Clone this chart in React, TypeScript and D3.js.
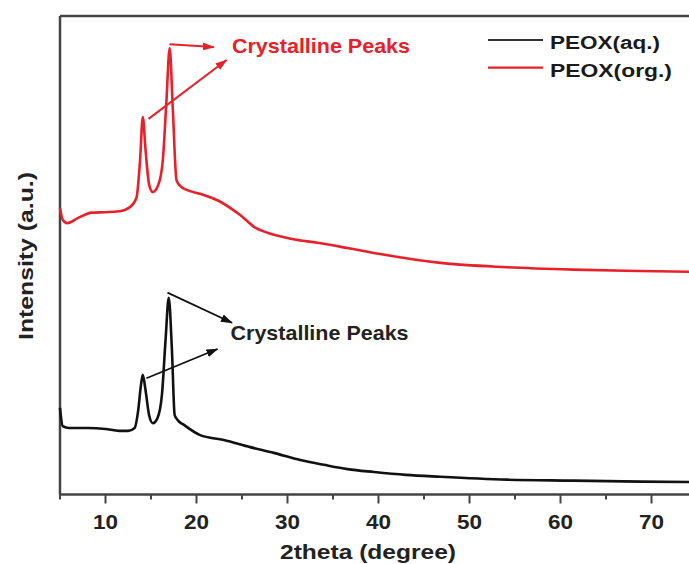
import React from "react";
import * as d3 from "d3";

// 2theta positions (degree) and intensities (a.u.)
const aqTheta = [5, 5.3, 6, 8, 10, 11.5, 12.5, 13.2, 13.6, 13.9, 14.1, 14.4, 14.8, 15.2, 15.7, 16.2, 16.6, 16.95, 17.3, 17.6, 18.0, 18.5, 20.4, 23, 25.9, 28.5, 31.4, 34, 36.6, 39.5, 43, 46.8, 54.1, 61.4, 68.8, 75.5];
const aqIntensity = [18.1, 14.3, 13.9, 13.9, 13.7, 13.3, 13.3, 13.9, 17.7, 22.9, 25.0, 21.8, 16.5, 14.9, 15.9, 20.8, 32.3, 41.1, 30.2, 16.6, 15.4, 14.7, 12.4, 11.4, 9.9, 8.7, 7.2, 6.2, 5.3, 4.7, 4.1, 3.7, 3.1, 2.9, 2.7, 2.6];

const orgTheta = [5, 5.3, 5.8, 7, 8.5, 10, 11.5, 12.7, 13.4, 13.8, 14.1, 14.4, 14.8, 15.2, 15.8, 16.3, 16.7, 17.05, 17.4, 17.8, 18.2, 19, 20.5, 22.3, 24.8, 26.5, 27.8, 30.5, 33.3, 36.6, 40, 46.8, 54.1, 61.4, 68.8, 75.5];
const orgIntensity = [59.9, 57.4, 56.7, 57.8, 58.9, 59.0, 59.2, 60.1, 62.0, 69.9, 78.9, 72.0, 64.7, 63.2, 64.7, 69.9, 82.4, 93.3, 80.4, 65.7, 64.5, 63.6, 62.8, 61.5, 58.4, 55.7, 54.7, 53.4, 52.6, 51.5, 50.3, 48.4, 47.5, 47.0, 46.7, 46.5];

const majorTicks = [10, 20, 30, 40, 50, 60, 70];
const minorTicks = [5, 15, 25, 35, 45, 55, 65, 75];

const seriesNames = ["PEOX(aq.)", "PEOX(org.)"];
const peakLabel = "Crystalline Peaks";

// annotation arrows in data units: [x1, y1, x2, y2]
const orgArrows = [
  [17.03, 94.1, 21.9, 93.5],
  [14.73, 78.5, 23.3, 90.8],
];
const aqArrows = [
  [16.81, 42.2, 23.9, 35.9],
  [14.5, 24.3, 22.3, 30.4],
];
const orgLabelAt = [23.9, 92.3];
const aqLabelAt = [23.74, 32.3];

const RED = "#e8202a";
const BLACK = "#111";
const AXIS = "#444";
const FONT = "'Liberation Sans', Arial, sans-serif";

export default function App() {
  const width = 689;
  const height = 564;
  const left = 60;
  const bottom = 494.5;
  const top = 16;

  const x = d3.scaleLinear().domain([5, 75.5]).range([left, left + 70.5 * 9.1]);
  const y = d3.scaleLinear().domain([0, 100]).range([bottom, bottom - 478.5]);

  const line = d3
    .line<[number, number]>()
    .x((d) => x(d[0]))
    .y((d) => y(d[1]))
    .curve(d3.curveMonotoneX);

  const aqPath = line(aqTheta.map((t, i) => [t, aqIntensity[i]]));
  const orgPath = line(orgTheta.map((t, i) => [t, orgIntensity[i]]));

  const xEnd = x.range()[1];

  return (
    <svg
      width={width}
      height={height}
      style={{ position: "absolute", left: 0, top: 0, background: "#fff" }}
      fontFamily={FONT}
    >
      <defs>
        <marker id="headRed" viewBox="0 0 12 8" refX="11" refY="4" markerWidth="12" markerHeight="8" markerUnits="userSpaceOnUse" orient="auto">
          <path d="M0,0 L12,4 L0,8 Z" fill={RED} />
        </marker>
        <marker id="headBlack" viewBox="0 0 12 8" refX="11" refY="4" markerWidth="12" markerHeight="8" markerUnits="userSpaceOnUse" orient="auto">
          <path d="M0,0 L12,4 L0,8 Z" fill={BLACK} />
        </marker>
      </defs>

      {/* frame */}
      <line x1={left} x2={xEnd} y1={top} y2={top} stroke={AXIS} strokeWidth={2.5} />
      <line x1={left} x2={left} y1={top} y2={bottom} stroke={AXIS} strokeWidth={2.5} />
      <line x1={left - 1} x2={xEnd} y1={bottom} y2={bottom} stroke={AXIS} strokeWidth={2.5} />

      {majorTicks.map((t) => (
        <g key={`M${t}`}>
          <line x1={x(t)} x2={x(t)} y1={bottom} y2={bottom + 9} stroke={AXIS} strokeWidth={2} />
          <text
            x={x(t) - 12.5}
            y={529}
            fontSize={19.5}
            fontWeight="bold"
            fill="#222"
            textLength={25}
            lengthAdjust="spacingAndGlyphs"
          >
            {t}
          </text>
        </g>
      ))}
      {minorTicks.map((t) => (
        <line key={`m${t}`} x1={x(t)} x2={x(t)} y1={bottom} y2={bottom + 5} stroke={AXIS} strokeWidth={2} />
      ))}

      <text x={280} y={558.5} fontSize={21} fontWeight="bold" fill="#222" textLength={176} lengthAdjust="spacingAndGlyphs">
        2theta (degree)
      </text>
      <text
        transform={`translate(33, 340) rotate(-90)`}
        fontSize={20}
        fontWeight="bold"
        fill="#222"
        textLength={168}
        lengthAdjust="spacingAndGlyphs"
      >
        Intensity (a.u.)
      </text>

      {/* spectra */}
      <path d={orgPath ?? ""} fill="none" stroke={RED} strokeWidth={2.6} strokeLinejoin="round" />
      <path d={aqPath ?? ""} fill="none" stroke={BLACK} strokeWidth={2.6} strokeLinejoin="round" />

      {/* annotations */}
      {orgArrows.map((a, i) => (
        <line key={`ra${i}`} x1={x(a[0])} y1={y(a[1])} x2={x(a[2])} y2={y(a[3])} stroke={RED} strokeWidth={2} markerEnd="url(#headRed)" />
      ))}
      <text
        x={x(orgLabelAt[0])}
        y={y(orgLabelAt[1])}
        fontSize={20.5}
        fontWeight="bold"
        fill={RED}
        textLength={178}
        lengthAdjust="spacingAndGlyphs"
      >
        {peakLabel}
      </text>
      {aqArrows.map((a, i) => (
        <line key={`ba${i}`} x1={x(a[0])} y1={y(a[1])} x2={x(a[2])} y2={y(a[3])} stroke={BLACK} strokeWidth={1.8} markerEnd="url(#headBlack)" />
      ))}
      <text
        x={x(aqLabelAt[0])}
        y={y(aqLabelAt[1])}
        fontSize={20.5}
        fontWeight="bold"
        fill="#222"
        textLength={178}
        lengthAdjust="spacingAndGlyphs"
      >
        {peakLabel}
      </text>

      {/* legend */}
      {seriesNames.map((name, i) => (
        <g key={name}>
          <line x1={488} x2={543} y1={40 + i * 27.7} y2={40 + i * 27.7} stroke={i === 0 ? "#333" : RED} strokeWidth={2.2} />
          <text
            x={550}
            y={48.5 + i * 28}
            fontSize={18}
            fontWeight="bold"
            fill="#1a1a1a"
            textLength={i === 0 ? 110 : 122}
            lengthAdjust="spacingAndGlyphs"
          >
            {name}
          </text>
        </g>
      ))}
    </svg>
  );
}
